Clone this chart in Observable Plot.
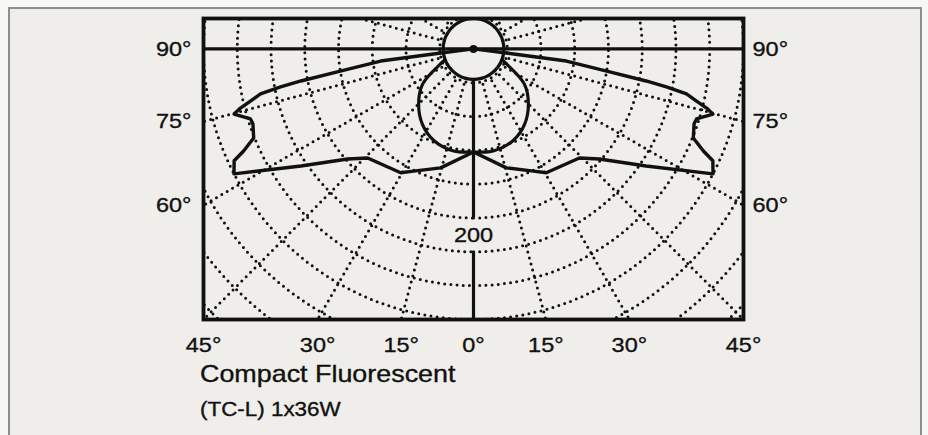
<!DOCTYPE html>
<html>
<head>
<meta charset="utf-8">
<script src="https://cdn.jsdelivr.net/npm/d3@7"></script>
<script src="https://cdn.jsdelivr.net/npm/@observablehq/plot@0.6"></script>
<style>
  html, body { margin: 0; padding: 0; background: #f7f7f5; }
  #wrap { position: relative; width: 928px; height: 435px; overflow: hidden; background: #f7f7f5; }
  #panel { position: absolute; left: 8px; top: 7px; width: 910px; height: 460px;
           border: 2px solid #8e8e8e; background: #efeeea; }
  #chart { position: absolute; left: 0; top: 0; }
  .cap { position: absolute; left: 200px; color: #111; white-space: nowrap;
         font-family: "Liberation Sans", Arial, Helvetica, sans-serif;
         -webkit-text-stroke: 0.35px #111;
         transform: scaleX(1.12); transform-origin: 0 0; }
  #title { top: 362px; font-size: 24px; line-height: 24px; }
  #sub { top: 399px; font-size: 20px; line-height: 20px; }
</style>
</head>
<body>
<div id="wrap">
  <div id="panel"></div>
  <div id="chart"></div>
  <div class="cap" id="title">Compact Fluorescent</div>
  <div class="cap" id="sub">(TC-L) 1x36W</div>
</div>
<script>
// ---------------- data (angles in degrees from nadir, intensities in cd) ----------------
// Transverse plane (wide "wing" lobe), mirrored on both sides
const wingAngles = [0, 15.5, 26.2, 30.5, 44.2, 48.9, 55.9, 62.5, 65, 66.1, 68, 71.3, 72.6, 74.8, 75.8, 76.9, 78.1, 78.9, 79.5, 80.6, 82.6, 82.9, 90];
const wingCd     = [122, 146, 161, 170, 180, 198, 247, 320, 313, 298, 281, 276, 277, 294, 285, 271, 258, 233, 208, 160, 111, 48, 0];
// Axial plane (narrow "egg" lobe)
const eggAngles = [0, 11, 23.5, 34, 45, 55.5, 65.6, 69];
const eggCd     = [122, 123, 118, 108, 92, 73, 43, 36];
// Upward light (small circle)
const upAngles = [0, 15, 30, 45, 60, 75, 90, 105, 120, 135, 150, 165, 180, 195, 210, 225, 240, 255, 270, 285, 300, 315, 330, 345];
const upCd     = [36, 36, 36, 36, 36, 36, 36, 36, 36, 36, 36, 36, 36, 36, 36, 36, 36, 36, 36, 36, 36, 36, 36, 36];
// Grid
const gridRadii  = [40, 80, 120, 160, 200, 240, 280, 320, 360, 400, 440];
const gridAngles = [-165, -150, -135, -120, -105, -75, -60, -45, -30, -15, 15, 30, 45, 60, 75, 105, 120, 135, 150, 165];
const scaleLabel = "200";
const scaleLabelCd = 220;
const zeroLineGap = [200, 240];
// Axis extents and tick labels
const extent = 320;       // half width / depth of the frame in cd
const upperExtent = 36;   // frame top above the centre, cd
const bottomTickAngles = [-45, -30, -15, 0, 15, 30, 45];
const sideTickAngles = [90, 75, 60];

// ---------------- helpers ----------------
const rad = d => d * Math.PI / 180;
const px = (a, r) => r * Math.sin(rad(a));
const py = (a, r) => -r * Math.cos(rad(a));

// curve rows
const wingRows = [];
for (let i = wingAngles.length - 1; i >= 0; --i) wingRows.push({a: -wingAngles[i], r: wingCd[i]});
for (let i = 1; i < wingAngles.length; ++i) wingRows.push({a: wingAngles[i], r: wingCd[i]});
const eggRows = [];
for (let i = eggAngles.length - 1; i >= 0; --i) eggRows.push({a: -eggAngles[i], r: eggCd[i]});
for (let i = 1; i < eggAngles.length; ++i) eggRows.push({a: eggAngles[i], r: eggCd[i]});
const upRows = upAngles.map((a, i) => ({a, r: upCd[i]}));

// grid rows
const ringRows = [];
for (const r of gridRadii) for (let a = 0; a <= 360; a += 2) ringRows.push({ring: r, a, r});
const spokeRows = [];
for (const a of gridAngles) { spokeRows.push({spoke: a, a, r: upperExtent}); spokeRows.push({spoke: a, a, r: 480}); }
const zeroRows = [
  {y1: -upperExtent, y2: -zeroLineGap[0]},
  {y1: -zeroLineGap[1], y2: -extent}
];
const bottomTicks = bottomTickAngles.map(a => ({x: extent * Math.tan(rad(a)), y: -extent, label: `${Math.abs(a)}°`}));
const sideTicks = sideTickAngles.map(a => ({y: -extent / Math.tan(rad(a)), label: `${a}°`}));

const ink = "#111";
const dotted = {stroke: ink, strokeWidth: 3, strokeDasharray: "0 6.2", strokeLinecap: "round", clip: true};
const font = {fontFamily: "Liberation Sans, Arial, Helvetica, sans-serif", fontSize: 21, fill: ink, stroke: ink, strokeWidth: 0.35};

const chart = Plot.plot({
  width: 928,
  height: 360,
  marginLeft: 203,
  marginRight: 185,
  marginTop: 18,
  marginBottom: 41,
  x: {domain: [-extent, extent], axis: null},
  y: {domain: [-extent, upperExtent], axis: null},
  style: {background: "transparent", overflow: "visible"},
  marks: [
    // dotted polar grid
    Plot.line(ringRows, {x: d => px(d.a, d.r), y: d => py(d.a, d.r), z: "ring", ...dotted}),
    Plot.line(spokeRows, {x: d => px(d.a, d.r), y: d => py(d.a, d.r), z: "spoke", ...dotted}),
    // solid axes
    Plot.ruleY([0], {stroke: ink, strokeWidth: 3.2}),
    Plot.ruleX(zeroRows, {x: 0, y1: "y1", y2: "y2", stroke: ink, strokeWidth: 3.2}),
    // curves
    Plot.line(upRows, {x: d => px(d.a, d.r), y: d => py(d.a, d.r), curve: "catmull-rom-closed", stroke: ink, strokeWidth: 3.2}),
    Plot.line(eggRows, {x: d => px(d.a, d.r), y: d => py(d.a, d.r), curve: "catmull-rom", stroke: ink, strokeWidth: 3.2}),
    Plot.line(wingRows, {x: d => px(d.a, d.r), y: d => py(d.a, d.r), curve: "linear", stroke: ink, strokeWidth: 3.4, strokeLinejoin: "round"}),
    Plot.dot([{a: 0, r: 0}], {x: d => px(d.a, d.r), y: d => py(d.a, d.r), r: 4, fill: ink}),
    Plot.frame({stroke: ink, strokeWidth: 3.8}),
    // labels
    Plot.text([{a: 0, r: scaleLabelCd}], {x: d => px(d.a, d.r), y: d => py(d.a, d.r), text: () => scaleLabel, ...font}),
    Plot.text(bottomTicks, {x: "x", y: "y", text: "label", dy: 26, ...font}),
    Plot.text(sideTicks, {x: -extent, y: "y", text: "label", textAnchor: "end", dx: -12, ...font}),
    Plot.text(sideTicks, {x: extent, y: "y", text: "label", textAnchor: "start", dx: 9, ...font})
  ]
});

// slightly widen text glyphs like the reference lettering
chart.querySelectorAll("text").forEach(el => {
  const t = el.getAttribute("transform");
  if (t) el.setAttribute("transform", t + " scale(1.12,1)");
  else {
    const x = el.getAttribute("x") || 0, y = el.getAttribute("y") || 0;
    el.removeAttribute("x"); el.removeAttribute("y");
    el.setAttribute("transform", `translate(${x},${y}) scale(1.12,1)`);
  }
});
document.getElementById("chart").appendChild(chart);
</script>
</body>
</html>
